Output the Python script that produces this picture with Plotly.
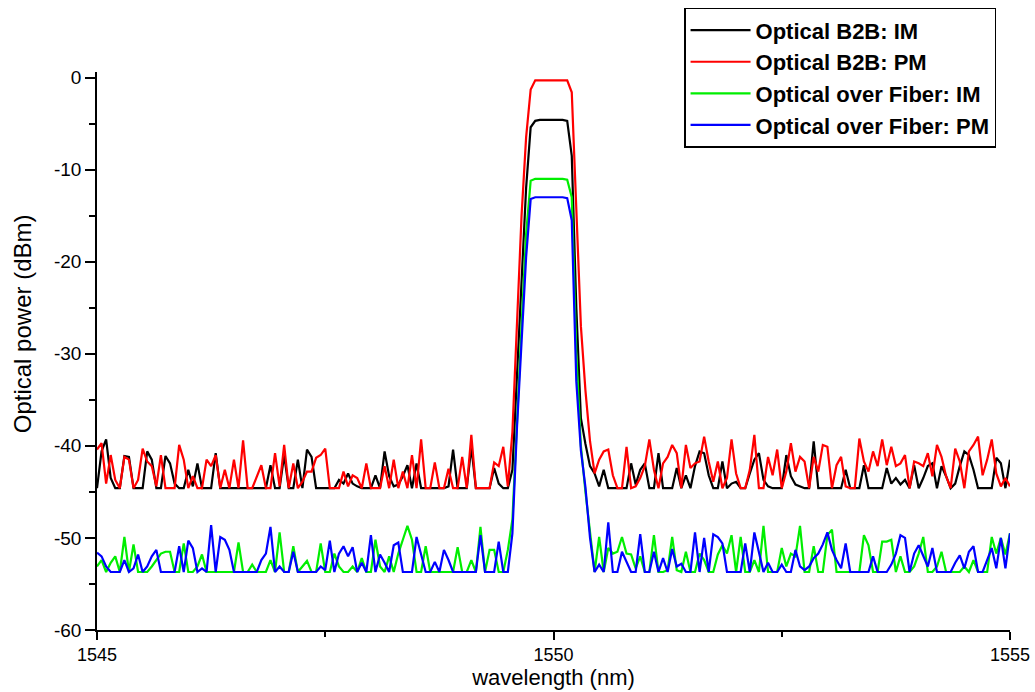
import numpy as np
import plotly.graph_objects as go

# Wavelength sampling grid (nm), 0.05 nm resolution
wavelength = np.linspace(1545.0, 1555.0, 201)

# Measured optical spectra (dBm)
b2b_im = [
    -44.6, -40.6, -39.3, -43.5, -44.6, -44.6, -41.1, -41.2, -44.6, -44.6,
    -44.6, -40.6, -41.5, -44.6, -44.6, -41.1, -41.9, -44.1, -44.6, -44.6,
    -42.6, -44.4, -41.9, -44.6, -44.6, -44.6, -40.8, -44.6, -44.6, -44.6,
    -44.6, -44.6, -44.6, -44.6, -44.6, -44.6, -44.6, -44.6, -42.1, -44.6,
    -44.6, -41.0, -44.6, -44.6, -41.5, -44.6, -40.4, -41.2, -44.6, -44.6,
    -44.6, -44.6, -44.6, -43.7, -44.1, -43.0, -44.1, -44.4, -44.6, -44.6,
    -44.6, -43.2, -44.6, -40.6, -43.3, -44.4, -44.2, -43.3, -42.1, -44.6,
    -41.9, -44.6, -44.6, -44.6, -44.6, -44.6, -44.6, -44.4, -40.4, -44.6,
    -44.6, -44.6, -40.1, -44.6, -44.6, -44.6, -44.6, -42.4, -44.1, -44.6,
    -44.6, -42.6, -32.0, -22.0, -12.0, -5.4, -4.7, -4.6, -4.6, -4.6,
    -4.6, -4.6, -4.6, -4.7, -8.5, -25.0, -37.0, -39.8, -42.2, -43.0,
    -44.4, -42.6, -44.6, -44.6, -44.6, -44.6, -44.6, -41.9, -44.2, -42.6,
    -41.9, -44.6, -44.6, -40.8, -44.6, -44.6, -44.6, -42.4, -44.6, -43.2,
    -44.6, -42.2, -40.6, -40.8, -43.2, -44.6, -44.6, -41.7, -44.6, -44.1,
    -43.9, -44.6, -44.6, -43.0, -41.5, -40.8, -43.7, -44.4, -44.6, -44.6,
    -44.6, -41.0, -43.3, -44.2, -44.4, -44.6, -44.6, -39.5, -44.6, -44.6,
    -44.6, -44.6, -44.6, -44.6, -42.6, -44.6, -44.6, -44.6, -42.1, -44.6,
    -44.6, -44.6, -44.6, -42.4, -44.1, -43.5, -44.2, -43.7, -44.6, -42.1,
    -44.6, -43.5, -42.2, -41.9, -44.6, -42.2, -43.3, -44.6, -44.1, -42.2,
    -40.6, -41.0, -42.6, -44.6, -44.6, -44.6, -44.6, -41.3, -41.9, -44.6,
    -41.5,
]

b2b_pm = [
    -40.4, -39.7, -44.1, -41.0, -43.7, -44.6, -41.2, -41.5, -44.6, -43.7,
    -40.3, -41.7, -42.2, -44.4, -41.0, -44.6, -44.6, -44.6, -39.9, -41.5,
    -44.6, -43.3, -44.6, -44.6, -41.5, -42.2, -41.0, -44.6, -42.6, -44.6,
    -41.5, -44.6, -39.4, -44.6, -44.6, -43.3, -42.1, -44.6, -44.6, -40.8,
    -44.4, -39.9, -44.6, -41.9, -44.6, -43.9, -42.8, -42.8, -41.3, -41.0,
    -40.3, -44.6, -44.6, -44.6, -42.8, -44.4, -43.2, -43.5, -44.6, -41.9,
    -44.6, -44.6, -44.6, -42.2, -44.6, -41.5, -44.6, -42.8, -44.6, -41.0,
    -44.6, -39.3, -44.6, -44.6, -41.8, -44.6, -44.6, -42.5, -44.6, -44.6,
    -41.2, -44.6, -38.8, -44.6, -44.6, -44.6, -44.6, -41.8, -42.2, -40.1,
    -44.4, -38.5, -27.0, -15.0, -6.5, -1.3, -0.3, -0.3, -0.3, -0.3,
    -0.3, -0.3, -0.3, -0.3, -1.6, -14.0, -27.0, -34.0, -39.5, -43.0,
    -41.5, -40.6, -40.4, -43.2, -44.6, -44.6, -40.1, -44.6, -44.4, -43.5,
    -42.2, -39.3, -42.6, -44.6, -41.9, -41.2, -39.9, -40.8, -44.6, -39.9,
    -42.4, -41.9, -41.7, -39.0, -41.7, -43.9, -41.7, -44.6, -43.5, -39.3,
    -43.0, -44.6, -44.6, -42.6, -38.8, -44.6, -44.6, -41.2, -43.2, -40.4,
    -44.6, -42.8, -39.7, -42.8, -41.2, -41.7, -44.6, -41.2, -42.8, -39.9,
    -40.1, -44.6, -42.1, -41.2, -44.4, -44.6, -44.6, -39.2, -41.7, -42.8,
    -40.6, -42.2, -39.3, -42.1, -40.1, -42.2, -41.9, -41.0, -44.6, -41.7,
    -41.9, -42.2, -40.8, -43.3, -39.9, -41.2, -43.3, -44.6, -40.3, -41.7,
    -44.6, -40.6, -39.9, -39.0, -43.2, -41.5, -39.3, -43.0, -44.4, -43.5,
    -44.4,
]

fiber_im = [
    -53.1, -52.4, -53.7, -52.7, -52.0, -53.7, -49.9, -53.7, -50.7, -53.7,
    -53.7, -53.7, -53.1, -52.4, -51.7, -51.5, -51.5, -53.7, -53.7, -50.6,
    -53.7, -53.7, -53.1, -51.8, -53.7, -53.7, -53.7, -53.7, -53.7, -53.7,
    -53.7, -50.5, -53.7, -53.7, -52.9, -53.7, -53.7, -53.7, -52.4, -53.7,
    -49.4, -53.7, -53.7, -50.9, -53.7, -53.1, -52.5, -53.7, -53.7, -50.6,
    -53.7, -53.7, -51.7, -53.1, -53.7, -53.7, -53.1, -53.7, -52.2, -53.7,
    -53.7, -50.2, -53.1, -53.7, -52.0, -53.7, -51.7, -50.2, -48.7, -50.2,
    -53.7, -53.7, -50.9, -53.7, -53.7, -53.7, -53.7, -53.7, -53.7, -51.0,
    -53.7, -53.7, -52.4, -53.7, -48.8, -53.7, -51.3, -51.3, -53.7, -53.7,
    -51.3, -48.0, -37.0, -27.0, -17.0, -11.2, -11.0, -11.0, -11.0, -11.0,
    -11.0, -11.0, -11.0, -11.1, -13.0, -30.0, -40.0, -45.0, -49.5, -53.7,
    -49.9, -53.7, -51.1, -51.7, -51.5, -49.9, -51.7, -51.8, -53.3, -52.0,
    -53.7, -53.7, -49.7, -53.7, -53.7, -53.5, -49.9, -53.5, -53.7, -51.5,
    -53.7, -53.7, -51.7, -52.4, -53.7, -53.7, -51.8, -50.8, -51.7, -49.7,
    -53.7, -49.9, -53.7, -53.7, -52.4, -53.7, -48.7, -53.7, -53.7, -53.7,
    -51.1, -53.1, -51.7, -52.0, -48.7, -53.7, -53.7, -50.9, -53.7, -53.7,
    -49.7, -49.1, -53.7, -53.7, -53.7, -53.7, -53.7, -53.7, -49.7, -50.8,
    -53.7, -53.7, -50.4, -50.4, -50.2, -53.7, -52.0, -53.7, -53.7, -53.1,
    -51.7, -49.9, -53.7, -53.7, -53.1, -51.5, -53.7, -53.7, -53.7, -53.7,
    -53.1, -53.7, -52.4, -53.7, -53.7, -53.7, -49.9, -51.7, -50.0, -51.8,
    -49.5,
]

fiber_pm = [
    -51.6, -52.0, -53.1, -53.7, -53.7, -53.7, -52.4, -53.7, -53.3, -51.8,
    -53.7, -53.1, -52.0, -51.3, -53.7, -53.7, -53.7, -53.7, -50.9, -53.7,
    -50.3, -51.1, -53.7, -53.3, -53.7, -48.6, -53.7, -49.9, -50.2, -51.3,
    -53.7, -53.7, -53.7, -53.7, -53.7, -53.7, -52.4, -51.7, -48.8, -53.7,
    -53.1, -53.7, -53.7, -51.5, -53.7, -53.7, -53.7, -53.7, -53.7, -53.1,
    -53.5, -50.3, -53.7, -51.7, -50.9, -52.0, -51.0, -53.7, -52.7, -53.7,
    -49.7, -53.7, -51.8, -52.7, -53.7, -50.8, -50.5, -53.7, -53.7, -53.7,
    -49.9, -51.7, -53.7, -53.7, -52.6, -53.7, -51.3, -52.4, -53.7, -53.7,
    -53.7, -53.7, -53.7, -53.7, -49.7, -53.7, -53.7, -53.7, -50.4, -53.7,
    -53.7, -49.5, -38.0, -28.5, -19.5, -13.2, -13.0, -13.0, -13.0, -13.0,
    -13.0, -13.0, -13.0, -13.1, -15.5, -33.0, -40.5, -44.5, -50.0, -53.7,
    -52.9, -53.7, -48.3, -53.7, -53.7, -51.5, -52.7, -53.7, -53.7, -49.6,
    -53.7, -53.7, -51.5, -53.7, -52.2, -53.7, -51.2, -53.1, -52.8, -53.7,
    -53.7, -49.4, -53.7, -50.0, -53.7, -49.6, -49.9, -50.6, -53.7, -53.7,
    -53.7, -53.7, -50.6, -53.7, -49.4, -51.7, -53.7, -52.7, -53.7, -53.7,
    -52.9, -53.7, -53.7, -51.3, -53.1, -53.5, -53.1, -52.2, -51.7, -50.7,
    -49.4, -51.3, -52.4, -53.3, -50.6, -53.7, -53.7, -53.7, -53.7, -53.7,
    -52.0, -53.7, -53.7, -53.7, -52.9, -51.7, -49.7, -50.0, -53.7, -51.7,
    -50.8, -52.0, -53.1, -51.1, -53.7, -53.7, -53.7, -53.7, -52.7, -51.9,
    -53.3, -51.5, -50.9, -53.7, -53.7, -52.4, -51.1, -53.3, -50.0, -53.3,
    -49.5,
]

series_names = [
    "Optical B2B: IM",
    "Optical B2B: PM",
    "Optical over Fiber: IM",
    "Optical over Fiber: PM",
]
series_values = [b2b_im, b2b_pm, fiber_im, fiber_pm]
series_colors = ["#000000", "#ff0000", "#00ee00", "#0000ff"]

x_tick_values = [1545, 1550, 1555]
x_tick_labels = ["1545", "1550", "1555"]
y_tick_values = [0, -10, -20, -30, -40, -50, -60]
y_tick_labels = ["0", "-10", "-20", "-30", "-40", "-50", "-60"]

FONT = "Liberation Sans, Arial, sans-serif"

fig = go.Figure()
for name, vals, col in zip(series_names, series_values, series_colors):
    fig.add_trace(go.Scatter(
        x=wavelength, y=vals, mode="lines", name=name,
        line=dict(color=col, width=2.2),
    ))

fig.update_layout(
    width=1035, height=692,
    margin=dict(l=97, r=25, t=72, b=62, autoexpand=False),
    paper_bgcolor="white", plot_bgcolor="white",
    font=dict(family=FONT, color="black", size=18),
    showlegend=True,
    legend=dict(
        x=0.643, y=1.115, xanchor="left", yanchor="top",
        bgcolor="white", bordercolor="black", borderwidth=1.5,
        font=dict(family=FONT, size=22, color="black", weight="bold"),
        itemwidth=60,
        entrywidth=360,
        tracegroupgap=0,
    ),
    xaxis=dict(
        range=[1545, 1555], showgrid=False, zeroline=False,
        showline=True, linecolor="black", linewidth=1.5,
        ticks="outside", ticklen=8, tickwidth=1.5, tickcolor="black",
        tickvals=x_tick_values, ticktext=x_tick_labels,
        tickfont=dict(size=18),
        minor=dict(ticks="outside", ticklen=5, tickwidth=1.5,
                   tickcolor="black", dtick=2.5, showgrid=False),
        title=dict(text="wavelength (nm)", font=dict(size=22), standoff=2),
    ),
    yaxis=dict(
        range=[-60, 0.6], showgrid=False, zeroline=False,
        showline=True, linecolor="black", linewidth=1.5,
        ticks="outside", ticklen=10, tickwidth=1.5, tickcolor="black",
        tickvals=y_tick_values, ticktext=y_tick_labels,
        tickfont=dict(size=19),
        minor=dict(ticks="outside", ticklen=6, tickwidth=1.5,
                   tickcolor="black", dtick=5, showgrid=False),
    ),
    annotations=[dict(
        text="Optical power (dBm)", textangle=-90,
        xref="paper", yref="paper", x=-0.0821, y=0.548,
        xanchor="center", yanchor="middle", showarrow=False,
        font=dict(family=FONT, size=24, color="black"),
    )],
)

fig.write_html("out.html")
